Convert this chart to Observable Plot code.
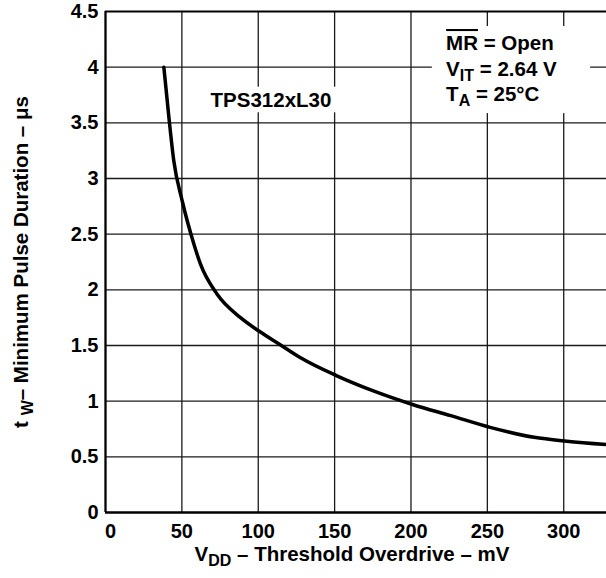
<!DOCTYPE html>
<html><head><meta charset="utf-8">
<script src="https://cdn.jsdelivr.net/npm/d3@7"></script>
<script src="https://cdn.jsdelivr.net/npm/@observablehq/plot@0.6"></script>
<style>body{margin:0;background:#fff}</style>
</head><body><div id="chart"></div>
<script>
// Data
const vdd = [38.2, 41.5, 44.7, 50.2, 57.9, 62.2, 73.1, 88.4, 100.4, 114.6, 127.7, 151.1, 175.8, 201.5, 226, 251.8, 280.6, 302, 328];
const tw  = [4.0, 3.55, 3.16, 2.80, 2.41, 2.23, 1.96, 1.75, 1.63, 1.505, 1.39, 1.23, 1.09, 0.968, 0.87, 0.765, 0.675, 0.64, 0.61];
const xTicks = [0, 50, 100, 150, 200, 250, 300];
const yTicks = [0, 0.5, 1, 1.5, 2, 2.5, 3, 3.5, 4, 4.5];
const xDomain = [0, 328];
const yDomain = [0, 4.5];
const deviceLabel = ["TPS312xL30"];
const conditions = ["MR = Open", "VIT = 2.64 V", "TA = 25°C"];
const xTitle = "VDD – Threshold Overdrive – mV";
const yTitle = "tW– Minimum Pulse Duration – μs";

const rich = {
  "MR = Open": [["MR", "over"], [" = Open", ""]],
  "VIT = 2.64 V": [["V", ""], ["IT", "sub"], [" = 2.64 V", ""]],
  "TA = 25°C": [["T", ""], ["A", "sub"], [" = 25°C", ""]],
  "VDD – Threshold Overdrive – mV": [["V", ""], ["DD", "sub"], [" – Threshold Overdrive – mV", ""]],
  "tW– Minimum Pulse Duration – μs": [["t ", ""], ["W", "sub"], ["– Minimum Pulse Duration – μs", ""]]
};

const data = vdd.map((v, i) => ({vdd: v, tw: tw[i]}));
const font = "'Liberation Sans', Arial, Helvetica, sans-serif";

const svg = Plot.plot({
  width: 606, height: 578,
  marginLeft: 105, marginRight: 0, marginTop: 11, marginBottom: 66,
  style: {fontFamily: font, fontSize: "20px", fontWeight: "bold", color: "#000", background: "#fff", overflow: "visible"},
  x: {domain: xDomain, ticks: xTicks, tickSize: 0, tickPadding: 11, tickFormat: d => String(d), label: null},
  y: {domain: yDomain, ticks: yTicks, tickSize: 0, tickPadding: 7, tickFormat: d => String(d), label: null},
  marks: [
    Plot.ruleX(xTicks.filter(d => d > xDomain[0]), {stroke: "#1a1a1a", strokeWidth: 1.3}),
    Plot.ruleY(yTicks.filter(d => d > yDomain[0] && d < yDomain[1]), {stroke: "#1a1a1a", strokeWidth: 1.3}),
    Plot.rect([0], {x1: 64, x2: 154, y1: 3.59, y2: 3.82, fill: "white"}),
    Plot.rect([0], {x1: 214, x2: 317.6, y1: 3.583, y2: 4.365, fill: "white"}),
    Plot.line(data, {x: "vdd", y: "tw", stroke: "black", strokeWidth: 3.5, curve: "monotone-x"}),
    Plot.ruleX([xDomain[0]], {stroke: "black", strokeWidth: 2.3}),
    Plot.ruleY([yDomain[0]], {stroke: "black", strokeWidth: 2.3}),
    Plot.ruleY([yDomain[1]], {stroke: "black", strokeWidth: 2}),
    Plot.text(deviceLabel, {x: 68.8, y: 3.704, textAnchor: "start", fontSize: 20.5, fill: "black"}),
    Plot.text(conditions, {x: 223, y: (d, i) => 4.213 - i * 0.229, textAnchor: "start", fontSize: 20.5, fill: "black"}),
    Plot.text([xTitle], {frameAnchor: "bottom", dy: 48.6, dx: -4, fontSize: 20.5, fill: "black"}),
    Plot.text([yTitle], {frameAnchor: "left", textAnchor: "middle", rotate: -90, dx: -84, fontSize: 20.5, fill: "black"})
  ]
});
document.getElementById("chart").appendChild(svg);

// nudge the x-axis "0" label right as in the reference
svg.querySelectorAll('g[aria-label="x-axis tick label"] text').forEach(t => {
  if (t.textContent === "0") t.setAttribute("dx", "5");
});

const NS = "http://www.w3.org/2000/svg";
svg.querySelectorAll("text").forEach(t => {
  const spec = rich[t.textContent];
  if (!spec) return;
  t.textContent = "";
  let shift = 0;
  spec.forEach(([s, kind]) => {
    const ts = document.createElementNS(NS, "tspan");
    ts.textContent = s;
    if (kind === "sub") {
      ts.setAttribute("font-size", "0.78em");
      ts.setAttribute("dy", String(5 - shift));
      shift = 5;
    } else {
      if (shift) ts.setAttribute("dy", String(-shift));
      shift = 0;
      if (kind === "over") ts.setAttribute("text-decoration", "overline");
    }
    t.appendChild(ts);
  });
});
</script>
</body></html>
